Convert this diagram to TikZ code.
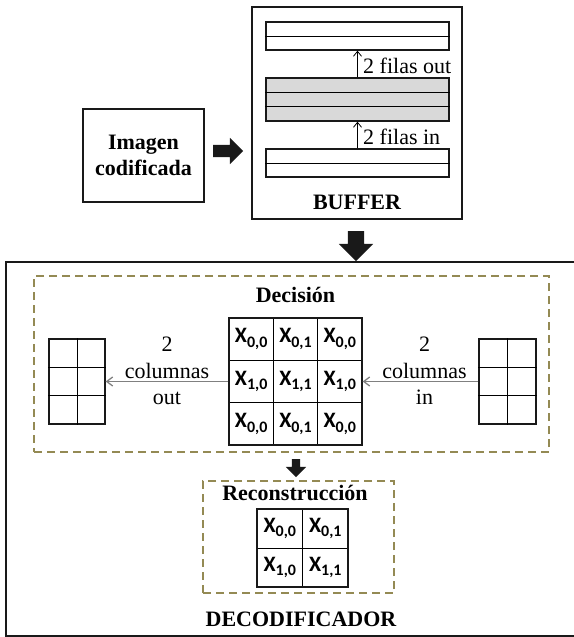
\documentclass[tikz,border=0pt]{standalone}
\usepackage{fontspec}
\setmainfont{Liberation Serif}
\newfontfamily\calib{Carlito}
\usepackage{tikz}
\usetikzlibrary{shapes.arrows,arrows.meta,calc}

\definecolor{olivedash}{RGB}{148,138,84}
\definecolor{stripgray}{RGB}{217,217,217}
\newcommand{\bigtxt}{\fontsize{22}{26.5}\selectfont}
\newcommand{\xsub}[2]{{\calib\bfseries\fontsize{22}{22}\selectfont X\raisebox{-4.5pt}{\fontsize{16}{16}\selectfont #1,#2}}}

\begin{document}
\begin{tikzpicture}[
		x=1pt, y=-1pt,
		every node/.style={font=\bigtxt},
		frame/.style={draw=black!90, line width=1.3pt, inner sep=0pt},
		strip/.style={draw=black!90, line width=1.3pt, minimum width=183pt, inner sep=0pt},
		thin/.style={line width=0.8pt},
		zone/.style={draw=olivedash, line width=1.4pt, dash pattern=on 8pt off 5pt, inner sep=0pt},
		cell/.style={draw, line width=0.8pt, inner sep=0pt},
		blockarrow/.style={single arrow, fill=black!90, inner xsep=0pt, text height=0pt, text depth=0pt, text width=0pt},
		filas/.style={thin, -{Straight Barb[length=5pt, width=8pt]}},
		cols/.style={draw=gray, line width=1.3pt, -{Straight Barb[length=6pt, width=9pt]}}
	]
  \useasboundingbox (0,0) rectangle (573,637);

  % buffer
  \node (buffer) [frame, minimum width=210pt, minimum height=212pt] at (357, 113) {};
  \node (buf_lbl) [font=\bigtxt\bfseries] at (357, 202) {BUFFER};
  \node (buf_top) [strip, minimum height=28pt] at (357.5, 36) {};
  \node (buf_mid) [strip, minimum height=43pt, fill=stripgray] at (357.5, 99.5) {};
  \node (buf_bot) [strip, minimum height=28pt] at (357.5, 163) {};
  \draw [thin] (buf_top.west) -- (buf_top.east);
  \draw [thin] (buf_bot.west) -- (buf_bot.east);
  \foreach \k in {1,2}
    \draw [thin] ($(buf_mid.north west)!\k/3!(buf_mid.south west)$) -- ($(buf_mid.north east)!\k/3!(buf_mid.south east)$);
  \draw [filas] (buf_mid.north) -- (buf_top.south) node [midway, right, xshift=2pt, yshift=-2pt] {2 filas out};
  \draw [filas] (buf_bot.north) -- (buf_mid.south) node [midway, right, xshift=2pt, yshift=-2pt] {2 filas in};

  % input image
  \node (img) [frame, minimum width=121pt, minimum height=93pt, align=center, font=\bigtxt\bfseries] at (143.5, 155.5) {Imagen\\codificada};
  \node (arr_in) [blockarrow, inner ysep=6pt, minimum height=30pt, single arrow head extend=7pt] at (225, 151) {};
  \node (arr_down) [blockarrow, rotate=-90, inner ysep=8pt, minimum height=30pt, single arrow head extend=9pt] at (356, 242) {};

  % decoder
  \node (dec) [frame, minimum width=580pt, minimum height=374pt] at (296, 449) {};
  \node (dec_lbl) [font=\bigtxt\bfseries] at (301, 619) {DECODIFICADOR};

  % decision stage
  \node (decision) [zone, minimum width=515pt, minimum height=176pt] at (291.5, 364) {};
  \node (decision_lbl) [font=\bigtxt\bfseries] at (295.5, 295) {Decisión};
  \foreach \r/\c/\i/\j in {1/1/0/0, 1/2/0/1, 1/3/0/0, 2/1/1/0, 2/2/1/1, 2/3/1/0, 3/1/0/0, 3/2/0/1, 3/3/0/0}
    \node (d\r\c) [cell, minimum width=44.33pt, minimum height=42.33pt] at ({229+44.33*(\c-0.5)}, {318+42.33*(\r-0.5)}) {\xsub{\i}{\j}};
  \node (dgrid) [frame, minimum width=133pt, minimum height=127pt] at (295.5, 381.5) {};

  \node (col_out) [frame, minimum width=56pt, minimum height=85pt] at (77, 381.5) {};
  \node (col_in) [frame, minimum width=57pt, minimum height=85pt] at (507.5, 381.5) {};
  \foreach \g in {col_out, col_in} {
    \draw [thin] (\g.north) -- (\g.south);
    \foreach \k in {1,2}
      \draw [thin] ($(\g.north west)!\k/3!(\g.south west)$) -- ($(\g.north east)!\k/3!(\g.south east)$);
  }
  \draw [cols] (dgrid.west) -- (col_out.east) node [midway, align=center, yshift=10.5pt] {2\\columnas\\out};
  \draw [cols] (col_in.west) -- (dgrid.east) node [midway, align=center, yshift=10.5pt, xshift=4pt] {2\\columnas\\in};

  \node (arr_rec) [blockarrow, rotate=-90, inner ysep=4pt, minimum height=18pt, single arrow head extend=6pt] at (296, 466) {};

  % reconstruction stage
  \node (recon) [zone, minimum width=191pt, minimum height=112pt] at (298.5, 537) {};
  \node (recon_lbl) [font=\bigtxt\bfseries] at (295, 493) {Reconstrucción};
  \foreach \r/\c/\i/\j in {1/1/0/0, 1/2/0/1, 2/1/1/0, 2/2/1/1}
    \node (r\r\c) [cell, minimum width=45.5pt, minimum height=39pt] at ({257+45.5*(\c-0.5)}, {509+39*(\r-0.5)}) {\xsub{\i}{\j}};
  \node (rgrid) [frame, minimum width=91pt, minimum height=78pt] at (302.5, 548) {};
\end{tikzpicture}
\end{document}
